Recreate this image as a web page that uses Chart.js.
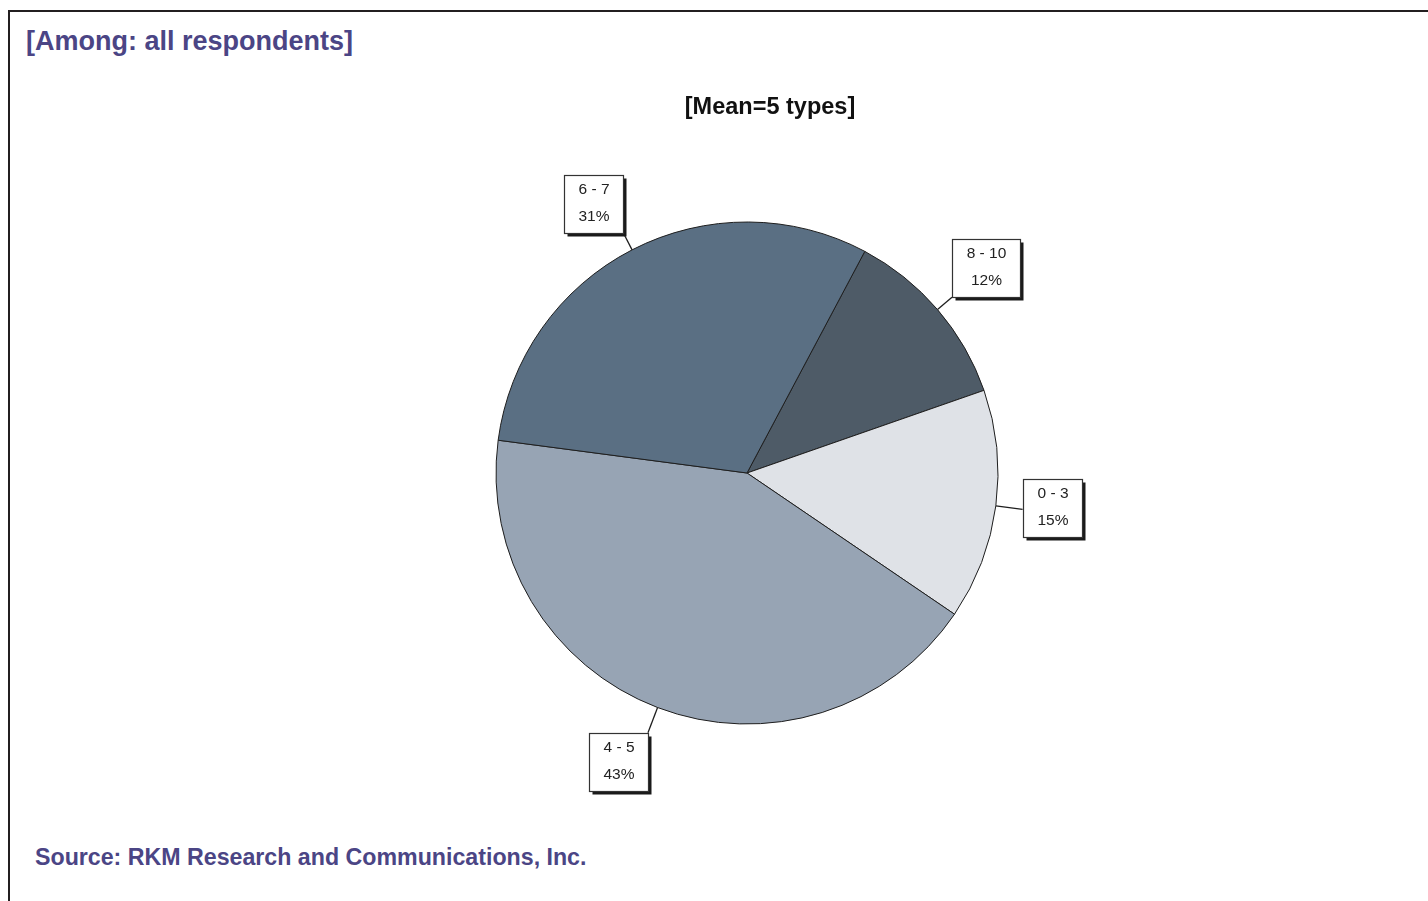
<!DOCTYPE html>
<html>
<head>
<meta charset="utf-8">
<script src="https://cdn.jsdelivr.net/npm/chart.js@4.4.4/dist/chart.umd.min.js"></script>
<style>
  html, body { margin: 0; padding: 0; background: #fff; overflow: hidden; }
  #wrap { position: relative; width: 1428px; height: 901px; }
  #frame {
    position: absolute; left: 8px; top: 10px; width: 1440px; height: 900px;
    border-left: 2px solid #231f20; border-top: 2px solid #231f20;
  }
  .note {
    position: absolute; font-family: 'Liberation Sans', Arial, sans-serif;
    font-weight: bold; color: #4b4585; white-space: nowrap;
  }
  #among { left: 26px; top: 26px; font-size: 27px; }
  #source { left: 35px; top: 844px; font-size: 23.2px; }
  #chart { position: absolute; left: 0; top: 0; }
</style>
</head>
<body>
<div id="wrap">
  <div id="frame"></div>
  <div class="note" id="among">[Among: all respondents]</div>
  <div class="note" id="source">Source: RKM Research and Communications, Inc.</div>
  <canvas id="chart" width="1428" height="901"></canvas>
</div>
<script>
// Number of types used, share of respondents
const CATEGORIES = ['8 - 10', '0 - 3', '4 - 5', '6 - 7'];
const SHARES = [12, 15, 43, 31];
const COLORS = ['#4e5b67', '#dfe2e7', '#97a4b4', '#5a6f83'];
const SUBTITLE = '[Mean=5 types]';

const FONT = "'Liberation Sans', Arial, sans-serif";

// Boxed callout labels with a leader line out from each slice
const calloutPlugin = {
    id: 'callouts',
    afterDraw(chart) {
        const { ctx } = chart;
        const arcs = chart.getDatasetMeta(0).data;

        ctx.save();
        ctx.font = "bold 23.5px " + FONT;
        ctx.fillStyle = '#111';
        ctx.textAlign = 'center';
        ctx.textBaseline = 'middle';
        ctx.fillText(SUBTITLE, 770, 108);

        ctx.font = "15.5px " + FONT;
        arcs.forEach((arc, i) => {
            const { x, y, startAngle, endAngle, outerRadius } =
                arc.getProps(['x', 'y', 'startAngle', 'endAngle', 'outerRadius'], true);
            const mid = (startAngle + endAngle) / 2;
            const c = Math.cos(mid), s = Math.sin(mid);
            const side = Math.abs(c) > 0.9;
            const reach = outerRadius + (s < -0.5 ? 19 : 27);
            const x0 = x + c * outerRadius, y0 = y + s * outerRadius;
            const x1 = x + c * reach, y1 = y + s * reach;

            const lines = [CATEGORIES[i], SHARES[i] + '%'];
            const w = Math.round(Math.max(...lines.map(t => ctx.measureText(t).width)) + 28);
            const h = 58;

            let bx, by;
            if (side) {
                bx = c > 0 ? x1 : x1 - w;
                by = y1 - h / 2 - 1;
            } else {
                bx = c > 0 ? x1 : x1 - w;
                by = s > 0 ? y1 : y1 - h;
            }
            bx = Math.round(bx) + 0.5;
            by = Math.round(by) + 0.5;

            ctx.strokeStyle = '#1e1e1e';
            ctx.lineWidth = 1.3;
            ctx.beginPath();
            ctx.moveTo(x0, y0);
            ctx.lineTo(x1, y1);
            ctx.stroke();

            ctx.fillStyle = '#1a1a1a';
            ctx.fillRect(bx + 3, by + 3, w, h);
            ctx.fillStyle = '#fff';
            ctx.fillRect(bx, by, w, h);
            ctx.lineWidth = 1.2;
            ctx.strokeStyle = '#333';
            ctx.strokeRect(bx, by, w, h);

            ctx.fillStyle = '#222';
            ctx.fillText(lines[0], bx + w / 2, by + 14);
            ctx.fillText(lines[1], bx + w / 2, by + 41);
        });
        ctx.restore();
    }
};

new Chart(document.getElementById('chart'), {
    type: 'pie',
    data: {
        labels: CATEGORIES,
        datasets: [{
            data: SHARES,
            backgroundColor: COLORS,
            borderColor: '#1e1e1e',
            borderWidth: 1
        }]
    },
    options: {
        responsive: false,
        animation: false,
        rotation: 28,
        radius: 251,
        layout: { padding: { left: 250, right: 184, top: 200, bottom: 155 } },
        plugins: {
            legend: { display: false },
            tooltip: { enabled: false }
        }
    },
    plugins: [calloutPlugin]
});
</script>
</body>
</html>
